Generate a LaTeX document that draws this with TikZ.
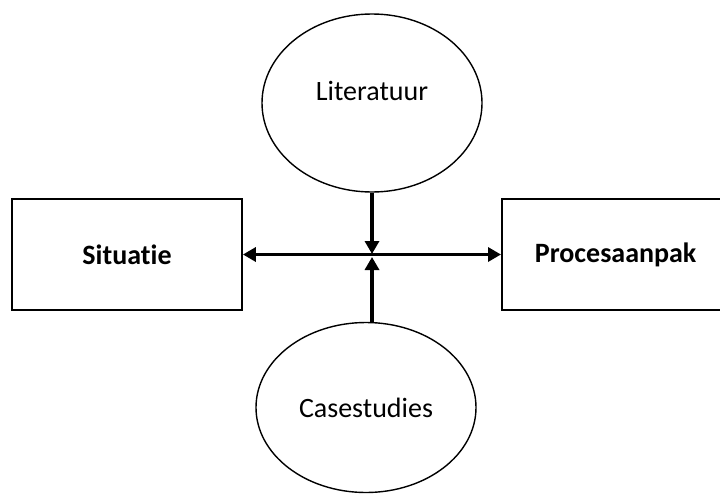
\documentclass[tikz,border=0pt]{standalone}
\usepackage{fontspec}
\setmainfont{Carlito}[Ligatures={NoCommon}]
\usetikzlibrary{shapes.geometric,arrows.meta}
\begin{document}
\begin{tikzpicture}[x=1pt,y=-1pt,
  every node/.style={font=\fontsize{28}{34}\selectfont},
  blok/.style={draw,line width=1.8pt,rectangle,minimum height=111pt,inner sep=0pt,font=\fontsize{28}{34}\selectfont\bfseries},
  bron/.style={draw,line width=1.4pt,ellipse,inner sep=0pt},
  conn/.style={line width=3.6pt,-{Triangle[length=13pt,width=14pt]}},
  dconn/.style={line width=3.6pt,{Triangle[length=13pt,width=14pt]}-{Triangle[length=13pt,width=14pt]}}]
  \useasboundingbox (0,0) rectangle (720,493);
  \clip (0,0) rectangle (720,493);
  % boxes left and right
  \node[blok,minimum width=230pt] (sit) at (127,254.5) {Situatie};
  \node[blok,anchor=west,minimum width=240pt,text width=174pt,align=left,inner xsep=33pt] (proc) at (501,254.5) {Procesaanpak};
  % sources above and below
  \node[bron,minimum width=220pt,minimum height=178pt] (lit) at (372,103) {\raisebox{12pt}[\height][\depth]{Literatuur}};
  \node[bron,minimum width=220pt,minimum height=170pt] (cas) at (366,407.5) {Casestudies};
  % meeting point of the arrows
  \coordinate (hub) at (372,255.5);
  \draw[dconn] (sit.east) -- (proc.west);
  \draw[conn] (lit.south) -- ([yshift=1.5pt]hub);
  \draw[conn] (cas.north -| hub) -- ([yshift=-1.5pt]hub);
\end{tikzpicture}
\end{document}
